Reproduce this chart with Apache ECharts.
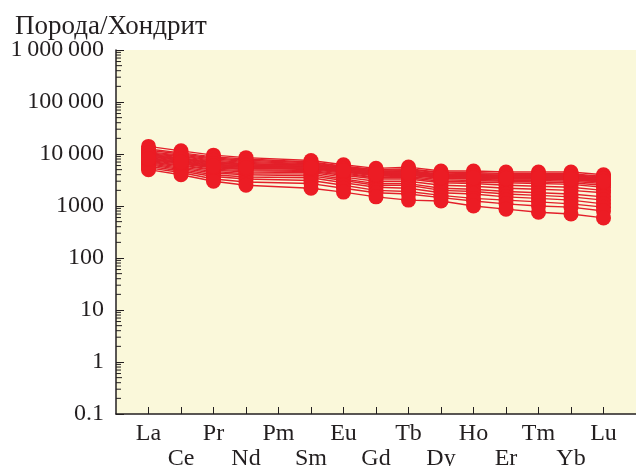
<!DOCTYPE html>
<html>
<head>
<meta charset="utf-8">
<script src="https://cdn.jsdelivr.net/npm/echarts@6/dist/echarts.min.js"></script>
<style>
  html, body { margin: 0; padding: 0; background: #fff; }
  #chart { width: 636px; height: 466px; }
</style>
</head>
<body>
<div id="chart"></div>
<script>
// элементы (REE), Pm без данных
var elements = ['La', 'Ce', 'Pr', 'Nd', 'Pm', 'Sm', 'Eu', 'Gd', 'Tb', 'Dy', 'Ho', 'Er', 'Tm', 'Yb', 'Lu'];
// подписи оси Y
var yLabels = ['0.1', '1', '10', '100', '1000', '10\u2009000', '100\u2009000', '1\u2009000\u2009000'];
// декады оси Y (для мелких делений)
var decades = [0.1, 1, 10, 100, 1000, 10000, 100000];

// нормированные содержания, порода/хондрит
var s1  = [14000, 11500, 9500, 8500, null, 7500, 6200, 5300, 5600, 4700, 4700, 4500, 4500, 4500, 4000];
var s2  = [12500, 10500, 8800, 8000, null, 7000, 5800, 5000, 5200, 4400, 4400, 4200, 4200, 4200, 3700];
var s3  = [11000, 9500, 8000, 7200, null, 6500, 5500, 4700, 4800, 4100, 4000, 3900, 3900, 3800, 3500];
var s4  = [10000, 9000, 7200, 6600, null, 6000, 5200, 4400, 4500, 3900, 3800, 3700, 3600, 3500, 3300];
var s5  = [9500, 8200, 6800, 6200, null, 5700, 4900, 4200, 4300, 3700, 3600, 3500, 3500, 3400, 3100];
var s6  = [9000, 7800, 6400, 5900, null, 5400, 4700, 4000, 4100, 3500, 3400, 3300, 3300, 3200, 2900];
var s7  = [8500, 7200, 6000, 5600, null, 5200, 4500, 3800, 3900, 3400, 3300, 3100, 3100, 3000, 2700];
var s8  = [8000, 6800, 5700, 5300, null, 5000, 4300, 3600, 3700, 3200, 3100, 3000, 2900, 2800, 2500];
var s9  = [7500, 6400, 5400, 5000, null, 4800, 4100, 3500, 3500, 3000, 2900, 2800, 2700, 2600, 2300];
var s10 = [7200, 6100, 5100, 4800, null, 4600, 3900, 3300, 3300, 2800, 2700, 2500, 2400, 2300, 2000];
var s11 = [7000, 5900, 4900, 4500, null, 4400, 3600, 3000, 3000, 2500, 2400, 2200, 2100, 2000, 1800];
var s12 = [6800, 5600, 4600, 4200, null, 4100, 3300, 2700, 2700, 2200, 2100, 1900, 1800, 1700, 1500];
var s13 = [6500, 5300, 4300, 4000, null, 3800, 3100, 2500, 2500, 2000, 1900, 1700, 1600, 1500, 1300];
var s14 = [6200, 5000, 4000, 3600, null, 3500, 2800, 2300, 2200, 1800, 1700, 1500, 1400, 1300, 1100];
var s15 = [5800, 4700, 3700, 3300, null, 3100, 2500, 2000, 1900, 1600, 1400, 1300, 1200, 1100, 950];
var s16 = [5400, 4400, 3300, 2900, null, 2700, 2200, 1800, 1700, 1450, 1250, 1100, 1000, 950, 800];
var s17 = [5000, 4000, 3000, 2500, null, 2200, 1850, 1500, 1300, 1250, 1000, 870, 760, 700, 590];
var s18 = [9800, 8500, 7000, 6400, null, 6200, 5400, 4600, 4700, 4000, 4000, 3900, 3800, 3800, 3400];
var s19 = [8800, 7500, 6200, 5800, null, 5600, 5000, 4300, 4400, 3800, 3700, 3600, 3600, 3500, 3200];
var s20 = [7800, 6600, 5500, 5200, null, 5300, 4600, 3900, 4000, 3500, 3400, 3300, 3300, 3200, 2900];
var s21 = [11800, 10000, 8400, 7600, null, 6800, 5700, 4900, 5000, 4300, 4200, 4100, 4000, 4000, 3600];
var s22 = [10500, 9200, 7600, 6900, null, 6300, 5300, 4500, 4600, 4000, 3900, 3800, 3700, 3700, 3400];
var s23 = [9200, 8000, 6600, 6100, null, 5900, 5100, 4300, 4400, 3800, 3800, 3700, 3600, 3600, 3300];
var s24 = [8200, 7000, 5900, 5500, null, 5500, 4800, 4100, 4200, 3600, 3500, 3400, 3400, 3300, 3000];
var samples = [s1, s2, s3, s4, s5, s6, s7, s8, s9, s10, s11, s12, s13, s14, s15, s16, s17, s18, s19, s20, s21, s22, s23, s24];

(function () {
    var myChart = echarts.init(document.getElementById('chart'));
    var font = 'Liberation Serif';
    var ink = '#231f20';
    // пустые категории по краям, чтобы La и Lu отстояли от границ
    var cats = [''].concat(elements, ['']);

    var series = samples.map(function (arr, i) {
        return {
            name: 'Образец ' + (i + 1),
            type: 'line',
            data: [null].concat(arr, [null]),
            connectNulls: true,
            symbol: 'circle',
            symbolSize: 15,
            showAllSymbol: true,
            itemStyle: { color: '#ec1c24' },
            lineStyle: { color: '#e3202a', width: 1.4 },
            emphasis: { disabled: true },
            z: 3
        };
    });

    // мелкие логарифмические деления 2..9 в каждой декаде
    var minor = [];
    decades.forEach(function (d) {
        for (var k = 2; k <= 9; k++) minor.push([0, d * k]);
    });
    series.push({
        type: 'custom',
        data: minor,
        silent: true,
        clip: false,
        z: 2,
        renderItem: function (params, api) {
            var v = api.value(1);
            var p = api.coord([api.value(0), v]);
            var len = Math.abs(v / Math.pow(10, Math.floor(Math.log10(v) + 1e-9)) - 5) < 1e-6 ? 6 : 5;
            return {
                type: 'line',
                shape: { x1: p[0], y1: p[1], x2: p[0] + len, y2: p[1] },
                style: { stroke: ink, lineWidth: 1 }
            };
        }
    });

    var option = {
        animation: false,
        title: {
            text: 'Порода/Хондрит',
            left: 10,
            top: 8,
            textStyle: { fontFamily: font, fontSize: 27, fontWeight: 'normal', color: ink }
        },
        grid: {
            left: 116,
            right: 0,
            top: 50,
            bottom: 52,
            outerBoundsMode: 'none',
            show: true,
            backgroundColor: '#faf8da',
            borderWidth: 0
        },
        xAxis: {
            type: 'category',
            data: cats,
            boundaryGap: false,
            axisLine: { lineStyle: { color: ink, width: 1.5 } },
            axisTick: {
                inside: true,
                length: 7,
                interval: function (idx) { return idx > 0 && idx < cats.length - 1; },
                lineStyle: { color: ink, width: 1 }
            },
            axisLabel: {
                interval: 0,
                margin: 7,
                fontFamily: font,
                fontSize: 24,
                lineHeight: 25,
                color: ink,
                formatter: function (v) {
                    if (!v) return '';
                    return (elements.indexOf(v) % 2 === 0) ? v : '\n' + v;
                }
            },
            splitLine: { show: false }
        },
        yAxis: {
            type: 'log',
            logBase: 10,
            min: 0.1,
            max: 1000000,
            axisLine: { show: true, lineStyle: { color: ink, width: 1.5 } },
            axisTick: { show: true, inside: true, length: 8, lineStyle: { color: ink, width: 1 } },
            minorTick: { show: false },
            axisLabel: {
                margin: 12,
                fontFamily: font,
                fontSize: 24,
                color: ink,
                formatter: function (v, idx) { return yLabels[idx]; }
            },
            splitLine: { show: false }
        },
        series: series
    };
    myChart.setOption(option);
    window.addEventListener('resize', function () {
        myChart.resize();
    });
})();
</script>
</body>
</html>
